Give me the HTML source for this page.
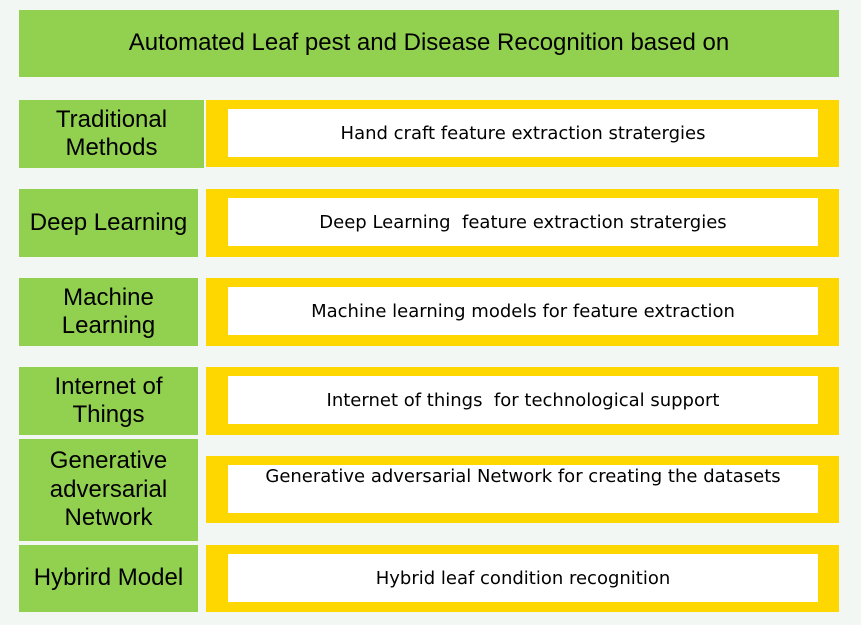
<!DOCTYPE html>
<html><head><meta charset="utf-8"><style>
body{margin:0;width:861px;height:625px;background:#f3f7f4;position:relative;overflow:hidden}
.g{position:absolute;background:#92d050;display:flex;align-items:center;justify-content:center;text-align:center;font-family:"Liberation Sans",sans-serif;font-size:24px;line-height:28.5px;color:#000}
.y{position:absolute;left:206px;width:633px;background:#ffd700}
.w{position:absolute;left:22px;width:590px;top:9px;height:48px;background:#fff;display:flex;align-items:center;justify-content:center;font-family:"Comic Sans MS","DejaVu Sans",sans-serif;font-size:18px;color:#000;white-space:nowrap}
</style></head><body>
<div class="g" style="left:19px;top:10px;width:820px;height:67px;font-size:24px">Automated Leaf pest and Disease Recognition based on</div>

<div class="g" style="left:19px;top:100px;width:185px;height:68px">Traditional<br>Methods</div>
<div class="y" style="top:100px;height:67px"><div class="w">Hand craft feature extraction stratergies</div></div>

<div class="g" style="left:19px;top:189px;width:179px;height:68px">Deep Learning</div>
<div class="y" style="top:189px;height:68px"><div class="w">Deep Learning&nbsp; feature extraction stratergies</div></div>

<div class="g" style="left:19px;top:278px;width:179px;height:68px">Machine<br>Learning</div>
<div class="y" style="top:278px;height:68px"><div class="w">Machine learning models for feature extraction</div></div>

<div class="g" style="left:19px;top:367px;width:179px;height:68px">Internet of<br>Things</div>
<div class="y" style="top:367px;height:68px"><div class="w">Internet of things&nbsp; for technological support</div></div>

<div class="g" style="left:19px;top:439px;width:179px;height:102px">Generative<br>adversarial<br>Network</div>
<div class="y" style="top:456px;height:67px"><div class="w" style="align-items:flex-start;padding-top:1px;height:47px">Generative adversarial Network for creating the datasets</div></div>

<div class="g" style="left:19px;top:545px;width:179px;height:67px">Hybrird Model</div>
<div class="y" style="top:545px;height:67px"><div class="w">Hybrid leaf condition recognition</div></div>
</body></html>
